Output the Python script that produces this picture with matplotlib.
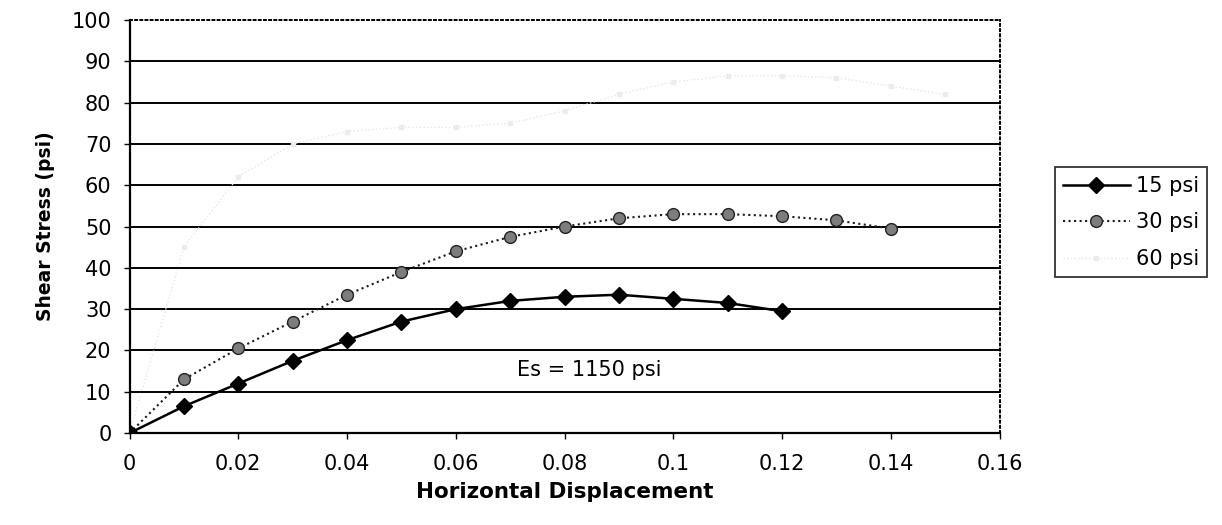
import numpy as np
import matplotlib.pyplot as plt

plt.rcParams['font.family'] = ['DejaVu Sans']

# horizontal displacement readings
disp_15 = [0, 0.01, 0.02, 0.03, 0.04, 0.05, 0.06, 0.07, 0.08, 0.09, 0.10, 0.11, 0.12]
disp_30 = [0, 0.01, 0.02, 0.03, 0.04, 0.05, 0.06, 0.07, 0.08, 0.09, 0.10, 0.11, 0.12, 0.13, 0.14]
disp_60 = [0, 0.01, 0.02, 0.03, 0.04, 0.05, 0.06, 0.07, 0.08, 0.09, 0.10, 0.11, 0.12, 0.13, 0.14, 0.15]

# shear stress (psi) for each normal stress
shear_15 = [0, 6.5, 12, 17.5, 22.5, 27, 30, 32, 33, 33.5, 32.5, 31.5, 29.5]
shear_30 = [0, 13, 20.5, 27, 33.5, 39, 44, 47.5, 50, 52, 53, 53, 52.5, 51.5, 49.5]
shear_60 = [0, 45, 62, 70, 73, 74, 74, 75, 78, 82, 85, 86.5, 86.5, 86, 84, 82]

x_ticks = [0, 0.02, 0.04, 0.06, 0.08, 0.1, 0.12, 0.14, 0.16]
x_ticklabels = ['0', '0.02', '0.04', '0.06', '0.08', '0.1', '0.12', '0.14', '0.16']
y_ticks = np.arange(0, 101, 10)

fig = plt.figure(figsize=(12.22, 5.25), dpi=100)
ax = fig.add_axes([0.106, 0.175, 0.712, 0.787])

# horizontal gridlines
for yv in y_ticks[1:-1]:
    ax.axhline(yv, color='black', lw=1.4, zorder=1)

ax.plot(disp_15, shear_15, color='black', lw=1.8, marker='D', ms=8.5,
        mfc='black', mec='black', label='15 psi', zorder=4)
ax.plot(disp_30, shear_30, color='#1a1a1a', lw=1.5, ls=':', marker='o', ms=8.5,
        mfc='#7d7d7d', mec='#222222', mew=1.0, label='30 psi', zorder=3)
ax.plot(disp_60, shear_60, color='#e6e6e6', lw=1.0, ls=':', marker='s', ms=2.5,
        mfc='#ececec', mec='#ececec', label='60 psi', zorder=2)

ax.text(0.0713, 15.3, 'Es = 1150 psi', fontsize=15, va='center', ha='left')

ax.set_xlim(0, 0.16)
ax.set_ylim(0, 100)
ax.set_xticks(x_ticks)
ax.set_xticklabels(x_ticklabels)
ax.set_yticks(y_ticks)
ax.tick_params(axis='both', labelsize=15, length=4, width=1, direction='out')
ax.tick_params(axis='y', pad=9)
ax.tick_params(axis='x', pad=11)

ax.spines['left'].set_linewidth(1.6)
ax.spines['bottom'].set_linewidth(1.6)
ax.spines['top'].set_linestyle(':')
ax.spines['right'].set_linestyle(':')
ax.spines['top'].set_linewidth(1.4)
ax.spines['right'].set_linewidth(1.4)

ax.set_xlabel('Horizontal Displacement', fontsize=15.5, fontweight='bold', labelpad=6)
ax.set_ylabel('Shear Stress (psi)', fontsize=13.5, fontweight='bold', labelpad=12)

leg = fig.legend(loc='upper left', bbox_to_anchor=(0.863, 0.681), fontsize=15,
                 frameon=True, fancybox=False, edgecolor='black',
                 handlelength=3.2, handletextpad=0.3, borderpad=0.4,
                 labelspacing=0.8, borderaxespad=0)
leg.get_frame().set_linewidth(1.3)

fig.savefig('out.png', dpi=100)
